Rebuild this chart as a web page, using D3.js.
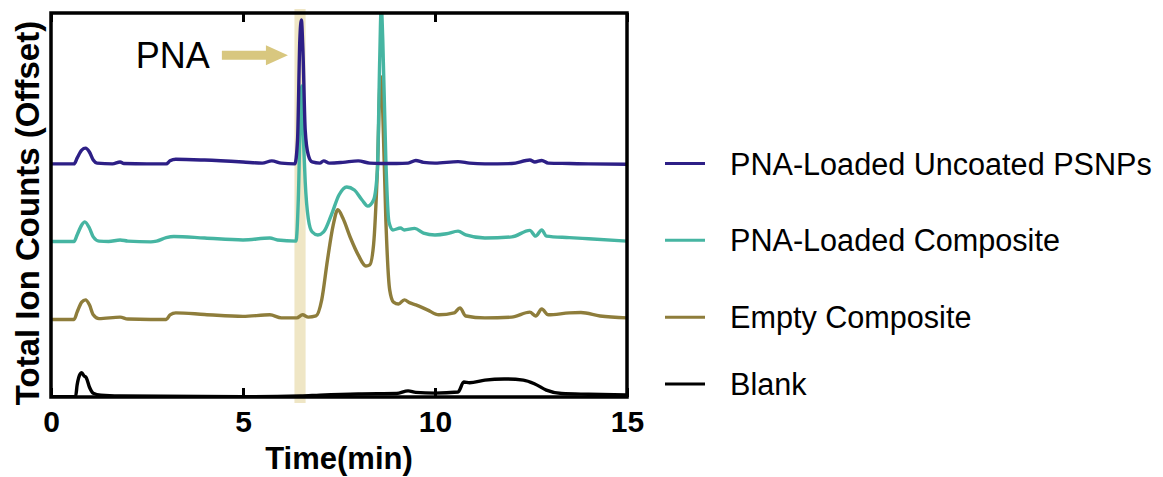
<!DOCTYPE html>
<html>
<head>
<meta charset="utf-8">
<script src="https://cdn.jsdelivr.net/npm/d3@7"></script>
<style>
  body { margin: 0; background: #fff; }
  svg { display: block; font-family: "Liberation Sans", Arial, sans-serif; }
</style>
</head>
<body>
<svg id="chart" width="1163" height="477"></svg>
<script>
// Legend order (top to bottom) and trace colours
const seriesNames = ["PNA-Loaded Uncoated PSNPs", "PNA-Loaded Composite", "Empty Composite", "Blank"];
const seriesColors = ["#2d1f86", "#46b5a2", "#8e7d3b", "#000000"];
// vertical offset applied to each trace (same units as the signal)
const seriesOffsets = [60, 40, 20, 0];

// [time (min), signal]
const uncoatedPSNPs = [
  [0, 0.7], [0.6, 0.7], [0.68, 2.2], [0.8, 4.3], [0.9, 4.8], [1.0, 3.8], [1.1, 1.7], [1.2, 0.9],
  [1.6, 0.7], [1.8, 1.2], [1.9, 0.8], [2.5, 0.7], [3.0, 0.7], [3.1, 1.5], [3.25, 1.9], [4.0, 1.7],
  [5.0, 1.2], [5.5, 0.9], [5.75, 1.5], [6.0, 0.9], [6.35, 0.7], [6.42, 6.9], [6.48, 33.0],
  [6.52, 38.2], [6.56, 30.4], [6.62, 9.5], [6.7, 3.0], [6.8, 1.2], [7.0, 0.9], [7.1, 1.5],
  [7.25, 0.9], [7.6, 1.1], [8.0, 1.5], [8.3, 0.9], [8.6, 0.8], [9.0, 0.8], [9.3, 0.9],
  [9.5, 1.6], [9.7, 1.1], [10.0, 0.9], [10.6, 1.3], [10.9, 0.9], [11.3, 0.7], [12.0, 0.8],
  [12.47, 1.7], [12.6, 1.2], [12.78, 1.6], [12.95, 0.9], [13.5, 0.8], [14.0, 0.7], [15, 0.6]
];
const loadedComposite = [
  [0, 0.5], [0.6, 0.5], [0.68, 2.2], [0.8, 4.8], [0.88, 5.6], [1.0, 4.0], [1.1, 1.7], [1.25, 0.6],
  [1.5, 0.5], [1.8, 0.9], [2.0, 0.6], [2.6, 0.4], [2.75, 0.6], [3.0, 1.5], [3.2, 1.8], [4.0, 1.4],
  [5.0, 0.9], [5.7, 1.4], [5.9, 0.9], [6.38, 0.6], [6.44, 11.3], [6.5, 36.0], [6.53, 41.0],
  [6.57, 28.0], [6.62, 16.0], [6.7, 6.5], [6.8, 3.0], [6.95, 2.2], [7.1, 3.0], [7.3, 7.4],
  [7.5, 12.6], [7.7, 14.7], [7.9, 13.9], [8.1, 11.3], [8.25, 9.7], [8.4, 11.3], [8.5, 19.1],
  [8.56, 47.8], [8.6, 62.0], [8.64, 53.0], [8.72, 21.7], [8.8, 5.6], [8.9, 3.5], [9.1, 4.0],
  [9.2, 3.5], [9.47, 3.9], [9.7, 2.7], [10.0, 2.2], [10.3, 2.5], [10.6, 3.2], [10.8, 2.2],
  [11.3, 1.4], [12.0, 1.7], [12.47, 3.4], [12.62, 1.9], [12.78, 3.5], [12.9, 1.9], [13.5, 1.5],
  [14.0, 1.2], [15, 0.6]
];
const emptyComposite = [
  [0, 0.2], [0.6, 0.2], [0.68, 2.1], [0.8, 4.7], [0.9, 5.3], [1.0, 4.0], [1.1, 1.4], [1.25, 0.4],
  [1.8, 0.8], [2.0, 0.3], [2.6, 0.2], [3.0, 0.2], [3.1, 1.4], [3.25, 1.9], [4.0, 1.5], [5.0, 1.0],
  [5.7, 1.4], [6.0, 0.6], [6.4, 0.6], [6.55, 1.4], [6.7, 0.8], [6.9, 1.1], [7.05, 5.3],
  [7.2, 15.7], [7.35, 24.8], [7.47, 28.8], [7.6, 26.6], [7.8, 21.4], [8.0, 17.0], [8.2, 14.1],
  [8.3, 14.4], [8.4, 19.6], [8.5, 39.1], [8.58, 63.5], [8.64, 54.0], [8.72, 26.1], [8.82, 7.9],
  [8.92, 4.7], [9.05, 4.2], [9.2, 5.3], [9.35, 4.5], [9.5, 4.0], [9.8, 2.7], [10.1, 1.4],
  [10.5, 1.9], [10.65, 3.2], [10.8, 1.1], [11.3, 0.6], [12.0, 0.8], [12.47, 2.1], [12.62, 1.1],
  [12.78, 2.9], [12.95, 1.4], [13.5, 1.9], [13.8, 2.0], [14.3, 1.1], [15, 0.6]
];
const blank = [
  [0, 0.1], [0.64, 0.1], [0.68, 3.1], [0.76, 6.0], [0.8, 6.3], [0.86, 5.5], [0.92, 5.0],
  [1.0, 2.6], [1.1, 1.0], [1.3, 0.5], [1.8, 0.3], [5.0, 0.1], [6.5, 0.3], [7.0, 0.5], [8.0, 0.8],
  [9.0, 0.9], [9.3, 1.6], [9.5, 1.2], [10.0, 1.0], [10.6, 1.3], [10.75, 3.9], [10.9, 3.7],
  [11.3, 4.4], [11.8, 4.7], [12.3, 4.4], [12.6, 3.4], [12.9, 1.8], [13.3, 0.9], [14.0, 0.7],
  [15, 0.5]
];
const seriesData = [uncoatedPSNPs, loadedComposite, emptyComposite, blank];

const xTicks = [0, 5, 10, 15];
const xTitle = "Time(min)";
const yTitle = "Total Ion Counts (Offset)";

// highlighted retention window for PNA and its arrow callout
const pnaWindow = [6.34, 6.63];
const pnaLabel = "PNA";
const arrowTail = 4.45, arrowTip = 6.17, arrowLevel = 89;

const svg = d3.select("#chart");
const plotLeft = 51, plotRight = 627, plotTop = 13, plotBottom = 397;

const x = d3.scaleLinear().domain([0, 15]).range([plotLeft, plotRight]);
const y = d3.scaleLinear().domain([0, 100]).range([plotBottom, plotTop]);

svg.append("defs").append("clipPath").attr("id", "plot-clip")
  .append("rect")
  .attr("x", plotLeft).attr("y", plotTop)
  .attr("width", plotRight - plotLeft).attr("height", plotBottom - plotTop);

// PNA window band
svg.append("rect")
  .attr("x", x(pnaWindow[0]))
  .attr("y", plotTop - 4)
  .attr("width", x(pnaWindow[1]) - x(pnaWindow[0]))
  .attr("height", plotBottom - plotTop + 10)
  .attr("fill", "#efe6c5");

// Traces, drawn bottom-up so the upper ones sit on top
const line = d3.line()
  .x(d => x(d[0]))
  .y(d => y(d[1]))
  .curve(d3.curveMonotoneX);

const traces = svg.append("g").attr("clip-path", "url(#plot-clip)");
for (let i = seriesData.length - 1; i >= 0; i--) {
  traces.append("path")
    .datum(seriesData[i].map(d => [d[0], d[1] + seriesOffsets[i]]))
    .attr("fill", "none")
    .attr("stroke", seriesColors[i])
    .attr("stroke-width", 3.4)
    .attr("stroke-linejoin", "round")
    .attr("d", line);
}

// Axes: bottom with labels, top with inward ticks only, frame drawn as a rect
const bottomAxis = svg.append("g")
  .attr("transform", `translate(0,${plotBottom})`)
  .call(d3.axisBottom(x).tickValues(xTicks).tickSizeInner(-9).tickSizeOuter(0).tickPadding(14));
bottomAxis.select(".domain").remove();
bottomAxis.selectAll(".tick line").attr("stroke-width", 3);
bottomAxis.selectAll(".tick text")
  .attr("font-size", 30)
  .attr("font-weight", "bold")
  .attr("font-family", "Liberation Sans, Arial, sans-serif")
  .attr("fill", "#000");

const topAxis = svg.append("g")
  .attr("transform", `translate(0,${plotTop})`)
  .call(d3.axisTop(x).tickValues(xTicks).tickSizeInner(-9).tickSizeOuter(0).tickFormat(""));
topAxis.select(".domain").remove();
topAxis.selectAll(".tick line").attr("stroke-width", 3);

svg.append("rect")
  .attr("x", plotLeft).attr("y", plotTop)
  .attr("width", plotRight - plotLeft).attr("height", plotBottom - plotTop)
  .attr("fill", "none")
  .attr("stroke", "#000")
  .attr("stroke-width", 3.5);

// Axis titles
svg.append("text")
  .attr("x", (plotLeft + plotRight) / 2)
  .attr("y", 469)
  .attr("text-anchor", "middle")
  .attr("font-size", 31)
  .attr("font-weight", "bold")
  .text(xTitle);

svg.append("text")
  .attr("transform", `translate(39,${(plotTop + plotBottom) / 2 + 8}) rotate(-90)`)
  .attr("text-anchor", "middle")
  .attr("font-size", 33)
  .attr("font-weight", "bold")
  .text(yTitle);

// PNA arrow callout
const ay = y(arrowLevel), ax0 = x(arrowTail), ax1 = x(arrowTip);
const headLen = 22, shaftHalf = 4.5, headHalf = 10;
svg.append("path")
  .attr("d", d3.line()([
    [ax0, ay - shaftHalf], [ax1 - headLen, ay - shaftHalf], [ax1 - headLen, ay - headHalf],
    [ax1, ay], [ax1 - headLen, ay + headHalf], [ax1 - headLen, ay + shaftHalf], [ax0, ay + shaftHalf]
  ]) + "Z")
  .attr("fill", "#d8c77f");

svg.append("text")
  .attr("x", ax0 - 12)
  .attr("y", ay + 13)
  .attr("text-anchor", "end")
  .attr("font-size", 36)
  .text(pnaLabel);

// Legend, one row per trace at its baseline
const legend = svg.append("g");
seriesNames.forEach((name, i) => {
  const ly = y(seriesOffsets[i] + (i === 3 ? 3.4 : 0.8));
  legend.append("line")
    .attr("x1", 665).attr("x2", 705)
    .attr("y1", ly).attr("y2", ly)
    .attr("stroke", seriesColors[i])
    .attr("stroke-width", 3);
  legend.append("text")
    .attr("x", 730)
    .attr("y", ly + 11)
    .attr("font-size", 30.6)
    .text(name);
});
</script>
</body>
</html>
